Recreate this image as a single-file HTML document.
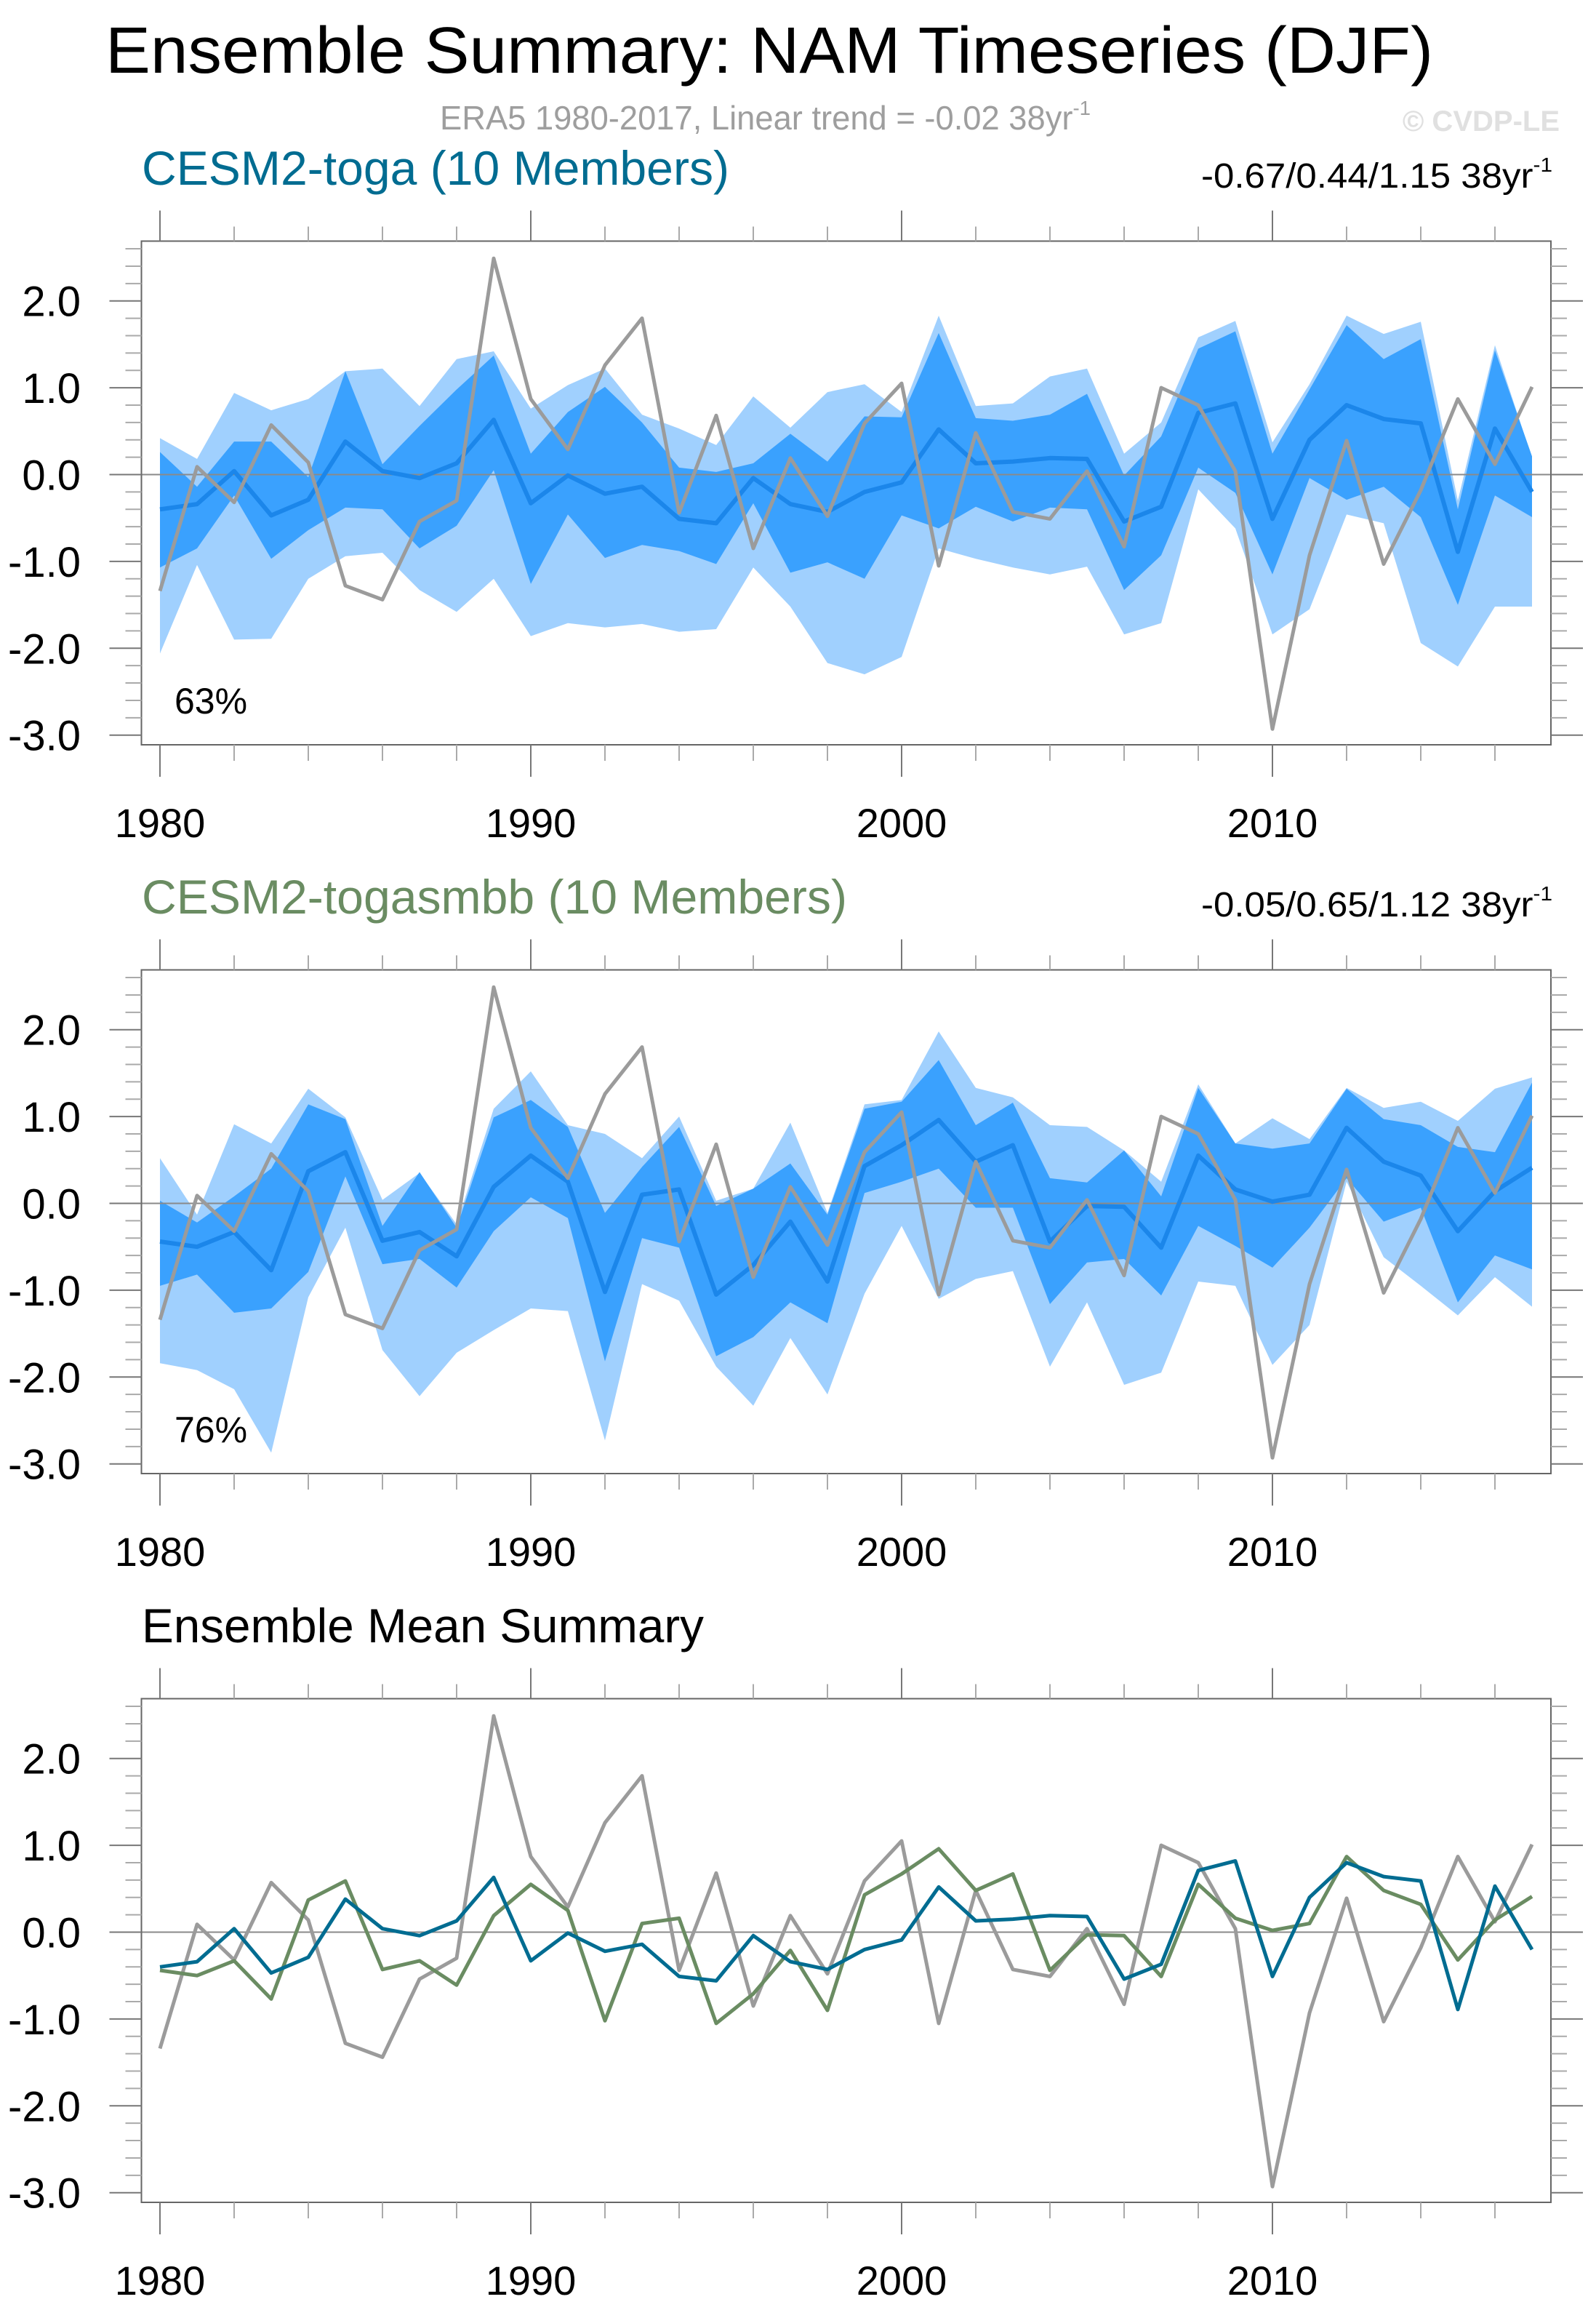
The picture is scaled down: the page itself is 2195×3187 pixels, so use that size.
<!DOCTYPE html>
<html><head><meta charset="utf-8">
<style>
html,body{margin:0;padding:0;background:#fff;}
svg{display:block;font-family:"Liberation Sans",Arial,sans-serif;}
</style></head>
<body>
<svg id="chart" width="2195" height="3187" viewBox="0 0 2195 3187" xmlns="http://www.w3.org/2000/svg">
<rect x="0" y="0" width="2195" height="3187" fill="#fff"/>
<text x="145" y="100" font-size="90" textLength="1826" lengthAdjust="spacingAndGlyphs" fill="#000">Ensemble Summary: NAM Timeseries (DJF)</text>
<text x="605" y="178" font-size="46" textLength="895" lengthAdjust="spacingAndGlyphs" fill="#9e9e9e">ERA5 1980-2017, Linear trend = -0.02 38yr<tspan font-size="28" dy="-20">-1</tspan></text>
<text x="2145" y="180" font-size="40" font-weight="bold" text-anchor="end" fill="#e0e0e0">© CVDP-LE</text>
<g id="panels"></g>
</svg>
<script>
const years = [1980,1981,1982,1983,1984,1985,1986,1987,1988,1989,1990,1991,1992,1993,1994,1995,1996,1997,1998,1999,2000,2001,2002,2003,2004,2005,2006,2007,2008,2009,2010,2011,2012,2013,2014,2015,2016,2017];
const era5 = [-1.34,0.09,-0.32,0.57,0.14,-1.28,-1.44,-0.54,-0.30,2.49,0.87,0.29,1.26,1.80,-0.44,0.68,-0.85,0.19,-0.48,0.59,1.05,-1.05,0.48,-0.43,-0.51,0.04,-0.83,1.00,0.80,0.04,-2.93,-0.93,0.39,-1.03,-0.18,0.87,0.12,1.01];
const togaMean = [-0.40,-0.34,0.04,-0.47,-0.29,0.38,0.04,-0.04,0.13,0.63,-0.33,-0.01,-0.22,-0.14,-0.51,-0.56,-0.04,-0.34,-0.43,-0.20,-0.09,0.52,0.13,0.15,0.19,0.18,-0.54,-0.37,0.71,0.82,-0.51,0.40,0.80,0.64,0.59,-0.89,0.53,-0.20];
const togaLightHi = [0.42,0.18,0.94,0.74,0.87,1.19,1.22,0.79,1.33,1.42,0.76,1.03,1.22,0.69,0.53,0.34,0.90,0.54,0.95,1.04,0.72,1.83,0.79,0.82,1.13,1.22,0.24,0.60,1.58,1.77,0.37,1.04,1.83,1.62,1.76,-0.30,1.49,0.19];
const togaDarkHi = [0.26,-0.14,0.38,0.38,-0.03,1.19,0.12,0.56,0.98,1.37,0.24,0.72,1.01,0.60,0.08,0.03,0.13,0.47,0.15,0.67,0.66,1.63,0.65,0.62,0.69,0.93,-0.01,0.44,1.45,1.65,0.24,0.98,1.72,1.33,1.56,-0.40,1.43,0.21];
const togaDarkLo = [-1.07,-0.85,-0.24,-0.97,-0.64,-0.38,-0.40,-0.85,-0.59,0.05,-1.26,-0.46,-0.96,-0.81,-0.88,-1.03,-0.33,-1.13,-1.01,-1.20,-0.47,-0.62,-0.37,-0.54,-0.38,-0.40,-1.33,-0.93,0.08,-0.21,-1.15,-0.04,-0.29,-0.14,-0.49,-1.50,-0.24,-0.49];
const togaLightLo = [-2.06,-1.04,-1.90,-1.89,-1.20,-0.94,-0.90,-1.33,-1.58,-1.20,-1.86,-1.71,-1.76,-1.72,-1.81,-1.78,-1.07,-1.52,-2.17,-2.30,-2.10,-0.85,-0.97,-1.07,-1.15,-1.06,-1.84,-1.71,-0.17,-0.62,-1.84,-1.55,-0.46,-0.56,-1.94,-2.21,-1.52,-1.52];
const smbbMean = [-0.44,-0.50,-0.33,-0.77,0.37,0.59,-0.43,-0.33,-0.61,0.19,0.55,0.25,-1.02,0.10,0.16,-1.05,-0.71,-0.21,-0.90,0.43,0.67,0.96,0.48,0.67,-0.44,-0.03,-0.04,-0.51,0.55,0.16,0.02,0.10,0.87,0.48,0.32,-0.32,0.14,0.41];
const smbbLightHi = [0.52,-0.13,0.91,0.69,1.32,0.99,0.04,0.35,-0.24,1.09,1.52,0.90,0.80,0.52,1.00,0.03,0.17,0.93,-0.11,1.14,1.19,1.98,1.33,1.22,0.90,0.88,0.61,0.25,1.37,0.69,0.98,0.74,1.33,1.10,1.17,0.95,1.32,1.45];
const smbbDarkHi = [0.03,-0.22,0.08,0.40,1.14,0.97,-0.26,0.36,-0.28,0.99,1.19,0.88,-0.11,0.42,0.88,-0.03,0.17,0.46,-0.13,1.09,1.17,1.65,0.90,1.16,0.29,0.24,0.61,0.08,1.33,0.69,0.63,0.69,1.32,0.97,0.90,0.65,0.59,1.39];
const smbbDarkLo = [-0.95,-0.82,-1.26,-1.21,-0.79,0.31,-0.70,-0.64,-0.97,-0.32,0.07,-0.17,-1.82,-0.40,-0.51,-1.76,-1.54,-1.14,-1.38,0.12,0.25,0.40,-0.05,-0.05,-1.16,-0.68,-0.64,-1.06,-0.26,-0.49,-0.74,-0.28,0.29,-0.21,-0.05,-1.14,-0.60,-0.76];
const smbbLightLo = [-1.84,-1.92,-2.14,-2.87,-1.08,-0.28,-1.69,-2.22,-1.72,-1.46,-1.21,-1.24,-2.73,-0.93,-1.12,-1.88,-2.33,-1.55,-2.20,-1.04,-0.26,-1.10,-0.87,-0.78,-1.88,-1.14,-2.09,-1.95,-0.90,-0.95,-1.86,-1.40,0.25,-0.62,-0.95,-1.29,-0.85,-1.19];
const yTickLabels = ["2.0","1.0","0.0","-1.0","-2.0","-3.0"];
const yTickValues = [2,1,0,-1,-2,-3];
const xTickLabels = ["1980","1990","2000","2010"];
const xTickYears = [1980,1990,2000,2010];

const NS = "http://www.w3.org/2000/svg";
const root = document.getElementById('panels');
const BOX_L = 194.5, BOX_R = 2133, BOX_H = 692.5;
function xs(yr){ return 220 + (yr - 1980) * 51.0; }
function mk(tag, attrs, parent){ const e = document.createElementNS(NS, tag); for (const k in attrs) e.setAttribute(k, attrs[k]); parent.appendChild(e); return e; }

function drawPanel(off, cfg){
  const top = 331.5 + off, bot = top + BOX_H, zero = 652.5 + off;
  const ys = v => zero - v * 119.4;
  const g = mk('g', {}, root);
  
  
  const t = mk('text', {x: 195, y: 254 + off, 'font-size': 66, fill: cfg.titleColor, textLength: cfg.titleLen, lengthAdjust: 'spacingAndGlyphs'}, g);
  t.textContent = cfg.title;
  
  
  if (cfg.trend){
    const r = mk('text', {x: 1652, y: 258 + off, 'font-size': 48, fill: '#000', textLength: 483, lengthAdjust: 'spacingAndGlyphs'}, g);
    r.textContent = cfg.trend;
    const s = mk('tspan', {'font-size': 28, dy: -22}, r); s.textContent = '-1';
    
    
  }
  function band(hi, lo, color, nm){
    let d = '';
    years.forEach((y,i)=>{ d += (i? 'L':'M') + xs(y).toFixed(1) + ',' + ys(hi[i]).toFixed(1); });
    for (let i = years.length-1; i >= 0; i--) d += 'L' + xs(years[i]).toFixed(1) + ',' + ys(lo[i]).toFixed(1);
    const p = mk('path', {d: d + 'Z', fill: color, stroke: 'none'}, g);
    
    
  }
  if (cfg.bands){
    band(cfg.bands[0], cfg.bands[3], '#a0d0fe', 'band-light');
    band(cfg.bands[1], cfg.bands[2], '#3aa1fe', 'band-dark');
  }
  const zl = mk('line', {x1: BOX_L, x2: BOX_R, y1: zero, y2: zero, stroke: '#8a8a8a', 'stroke-width': 2}, g);
  
  
  function line(vals, color, w, nm){
    const pts = years.map((y,i)=> xs(y).toFixed(1) + ',' + ys(vals[i]).toFixed(1)).join(' ');
    const pl = mk('polyline', {points: pts, fill: 'none', stroke: color, 'stroke-width': w, 'stroke-linejoin': 'round'}, g);
    
    
  }
  cfg.lines.forEach(l => line(l[0], l[1], l[2], l[3]));
  const bx = mk('rect', {x: BOX_L, y: top, width: BOX_R - BOX_L, height: BOX_H, fill: 'none', stroke: '#666', 'stroke-width': 2}, g);
  
  
  for (let k = -15; k <= 13; k++){
    const v = k * 0.2, y = ys(v);
    if (y < top - 1 || y > bot + 1) continue;
    const major = (k % 5 === 0);
    const len = major ? 44 : 22, col = major ? '#777' : '#aaa';
    mk('line', {x1: BOX_L - len, x2: BOX_L, y1: y, y2: y, stroke: col, 'stroke-width': 2}, g);
    mk('line', {x1: BOX_R, x2: BOX_R + len, y1: y, y2: y, stroke: col, 'stroke-width': 2}, g);
  }
  yTickValues.forEach((v,i)=>{
    const tl = mk('text', {x: 111, y: ys(v) + 21, 'font-size': 58, 'text-anchor': 'end', fill: '#000'}, g);
    tl.textContent = yTickLabels[i];
    
    
  });
  for (let yr = 1980; yr <= 2016; yr += 2){
    const x = xs(yr), major = (yr % 10 === 0);
    const len = major ? 44 : 22, col = major ? '#777' : '#aaa';
    mk('line', {x1: x, x2: x, y1: bot, y2: bot + len, stroke: col, 'stroke-width': 2}, g);
    mk('line', {x1: x, x2: x, y1: top - len + 2, y2: top, stroke: col, 'stroke-width': 2}, g);
  }
  xTickYears.forEach((yr,i)=>{
    const xl = mk('text', {x: xs(yr), y: 1151 + off, 'font-size': 56, 'text-anchor': 'middle', fill: '#000'}, g);
    xl.textContent = xTickLabels[i];
    
    
  });
  if (cfg.pct){
    const pt = mk('text', {x: 240, y: 981 + off, 'font-size': 50, fill: '#000'}, g);
    pt.textContent = cfg.pct;
    
    
  }
}

drawPanel(0, {name: 'panel-cesm2-toga', title: 'CESM2-toga (10 Members)', titleColor: '#006c91', titleLen: 808,
  trend: '-0.67/0.44/1.15 38yr', pct: '63%',
  bands: [togaLightHi, togaDarkHi, togaDarkLo, togaLightLo],
  lines: [[togaMean, '#1b86ea', 6, 'toga-ensemble-mean-line'], [era5, '#9b9b9b', 5, 'era5-line']]});
drawPanel(1002, {name: 'panel-cesm2-togasmbb', title: 'CESM2-togasmbb (10 Members)', titleColor: '#6a8c62', titleLen: 970,
  trend: '-0.05/0.65/1.12 38yr', pct: '76%',
  bands: [smbbLightHi, smbbDarkHi, smbbDarkLo, smbbLightLo],
  lines: [[smbbMean, '#1b86ea', 6, 'togasmbb-ensemble-mean-line'], [era5, '#9b9b9b', 5, 'era5-line']]});
drawPanel(2004, {name: 'panel-ensemble-mean-summary', title: 'Ensemble Mean Summary', titleColor: '#000', titleLen: 773,
  lines: [[era5, '#9b9b9b', 5, 'era5-line'], [smbbMean, '#6a8c62', 5, 'togasmbb-mean-line'], [togaMean, '#006c91', 5, 'toga-mean-line']]});
</script>
</body></html>
